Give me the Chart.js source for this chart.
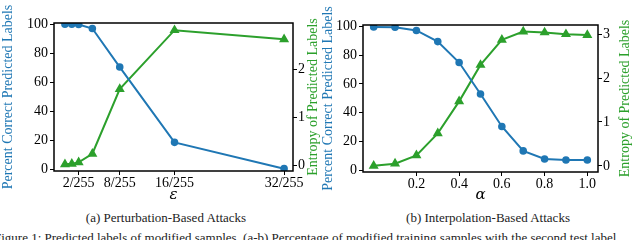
<!DOCTYPE html>
<html>
<head>
<meta charset="utf-8">
<script src="https://cdn.jsdelivr.net/npm/chart.js@4"></script>
<style>
    body { margin: 0; width: 640px; height: 240px; overflow: hidden; background: white; position: relative; font-family: "Liberation Serif", serif; }
    .box { position: absolute; top: 0; }
    .sub { position: absolute; top: 210px; font-size: 13px; color: #222; white-space: nowrap; transform: translateX(-50%); }
    .caption { position: absolute; top: 230px; left: -6px; font-size: 13px; color: #222; white-space: nowrap; }
</style>
</head>
<body>

<div class="box" style="left:0px"><canvas id="chartA" width="320" height="205"></canvas></div>
<div class="box" style="left:320px"><canvas id="chartB" width="320" height="205"></canvas></div>

<div class="sub" style="left:166px">(a) Perturbation-Based Attacks</div>
<div class="sub" style="left:488px">(b) Interpolation-Based Attacks</div>
<div class="caption">Figure 1: Predicted labels of modified samples. (a-b) Percentage of modified training samples with the second test label</div>

<script>

// data
let epsValues = [0, 1, 2, 4, 8, 16, 32];
let epsCorrect = [100, 100, 99.8, 97, 70.5, 18.7, 0.6];
let epsEntropy = [0.02, 0.03, 0.06, 0.24, 1.59, 2.82, 2.63];
let epsTicks = [2, 8, 16, 32];
let epsTickLabels = ["2/255", "8/255", "16/255", "32/255"];

let alphaValues = [0, 0.1, 0.2, 0.3, 0.4, 0.5, 0.6, 0.7, 0.8, 0.9, 1.0];
let alphaCorrect = [99.5, 99.3, 97, 89.3, 74.8, 53, 30.5, 13.6, 8, 7.3, 7.3];
let alphaEntropy = [0.0, 0.05, 0.24, 0.74, 1.47, 2.3, 2.87, 3.06, 3.04, 3.0, 2.98];
let alphaTicks = [0.2, 0.4, 0.6, 0.8, 1.0];
let alphaTickLabels = ["0.2", "0.4", "0.6", "0.8", "1.0"];

let correctTicks = [0, 20, 40, 60, 80, 100];
let entropyTicksA = [0, 1, 2];
let entropyTicksB = [0, 1, 2, 3];

const BLUE = "#1f77b4";
const GREEN = "#2ca02c";
const FONT = "Liberation Serif";

Chart.defaults.font.family = FONT;

// box round the plot + right axis title reading bottom-to-top
const framePlugin = {
    id: "frame",
    afterDatasetsDraw(chart) {
        let a = chart.chartArea;
        let ctx = chart.ctx;
        ctx.save();
        ctx.strokeStyle = "#000";
        ctx.lineWidth = 1.5;
        ctx.strokeRect(a.left, a.top, a.right - a.left, a.bottom - a.top);
        ctx.restore();
    },
    afterDraw(chart) {
        let s = chart.scales.y2;
        let ctx = chart.ctx;
        ctx.save();
        ctx.fillStyle = GREEN;
        ctx.font = "14px 'Liberation Serif', serif";
        ctx.textAlign = "center";
        ctx.textBaseline = "middle";
        ctx.translate(s.right - 7, (s.top + s.bottom) / 2);
        ctx.rotate(-Math.PI / 2);
        ctx.fillText("Entropy of Predicted Labels", 0, 0);
        ctx.restore();
    }
};

function makeChart(id, opts) {

    let tickFont = { family: FONT, size: 14 };

    let fixed = (ticks) => (scale) => {
        scale.ticks = ticks.map(v => ({ value: v }));
    };

    return new Chart(document.getElementById(id), {
        type: "line",
        data: {
            datasets: [
                {
                    data: opts.x.map((v, i) => ({ x: v, y: opts.correct[i] })),
                    yAxisID: "y",
                    borderColor: BLUE,
                    backgroundColor: BLUE,
                    borderWidth: 2,
                    pointStyle: "circle",
                    pointRadius: 2.8,
                    tension: 0
                },
                {
                    data: opts.x.map((v, i) => ({ x: v, y: opts.entropy[i] })),
                    yAxisID: "y2",
                    borderColor: GREEN,
                    backgroundColor: GREEN,
                    borderWidth: 2,
                    pointStyle: "triangle",
                    pointRadius: 3.8,
                    tension: 0
                }
            ]
        },
        plugins: [framePlugin],
        options: {
            responsive: false,
            animation: false,
            devicePixelRatio: 1,
            layout: { padding: { left: 0, top: opts.top, right: opts.padRight, bottom: 0 } },
            plugins: { legend: { display: false }, tooltip: { enabled: false } },
            scales: {
                x: {
                    type: "linear",
                    min: opts.xMin,
                    max: opts.xMax,
                    afterBuildTicks: fixed(opts.xTicks),
                    afterFit: (s) => { s.height = opts.xHeight; s.paddingLeft = 0; s.paddingRight = 0; },
                    grid: { drawOnChartArea: false, drawTicks: true, tickLength: 4, color: "#000" },
                    border: { display: false },
                    ticks: {
                        color: "#000",
                        font: tickFont,
                        padding: 0,
                        autoSkip: false,
                        maxRotation: 0,
                        callback: (v) => opts.xLabels[opts.xTicks.indexOf(v)]
                    },
                    title: {
                        display: true,
                        text: opts.xTitle,
                        color: "#000",
                        font: { family: "DejaVu Serif", size: 15, style: "italic" },
                        padding: { top: 0, bottom: 1 }
                    }
                },
                y: {
                    position: "left",
                    min: -1,
                    max: 100.8,
                    afterBuildTicks: fixed(correctTicks),
                    afterFit: (s) => { s.width = opts.yWidth; },
                    grid: { drawOnChartArea: false, drawTicks: true, tickLength: 4, color: "#000" },
                    border: { display: false },
                    ticks: { color: "#000", font: tickFont, padding: 2 },
                    title: {
                        display: true,
                        text: "Percent Correct Predicted Labels",
                        color: BLUE,
                        font: { family: FONT, size: 14 },
                        padding: { top: 0, bottom: 0 }
                    }
                },
                y2: {
                    position: "right",
                    min: opts.eMin,
                    max: opts.eMax,
                    afterBuildTicks: fixed(opts.eTicks),
                    afterFit: (s) => { s.width = opts.y2Width; },
                    grid: { drawOnChartArea: false, drawTicks: true, tickLength: 4, color: "#000" },
                    border: { display: false },
                    ticks: { color: "#000", font: tickFont, padding: 1 }
                }
            }
        }
    });
}

function drawAll() {
    makeChart("chartA", {
        x: epsValues, correct: epsCorrect, entropy: epsEntropy,
        xMin: -1.6, xMax: 33.3, xTicks: epsTicks, xLabels: epsTickLabels, xTitle: "ε",
        eMin: -0.12, eMax: 2.97, eTicks: entropyTicksA,
        top: 23, padRight: 0, xHeight: 34, yWidth: 54, y2Width: 27
    });

    makeChart("chartB", {
        x: alphaValues, correct: alphaCorrect, entropy: alphaEntropy,
        xMin: -0.05, xMax: 1.05, xTicks: alphaTicks, xLabels: alphaTickLabels, xTitle: "α",
        eMin: -0.14, eMax: 3.21, eTicks: entropyTicksB,
        top: 25, padRight: 8, xHeight: 33, yWidth: 43, y2Width: 34
    });
}

Promise.all([
    document.fonts.load("14px 'Liberation Serif'"),
    document.fonts.load("italic 15px 'DejaVu Serif'")
]).then(drawAll, drawAll);

</script>
</body>
</html>
